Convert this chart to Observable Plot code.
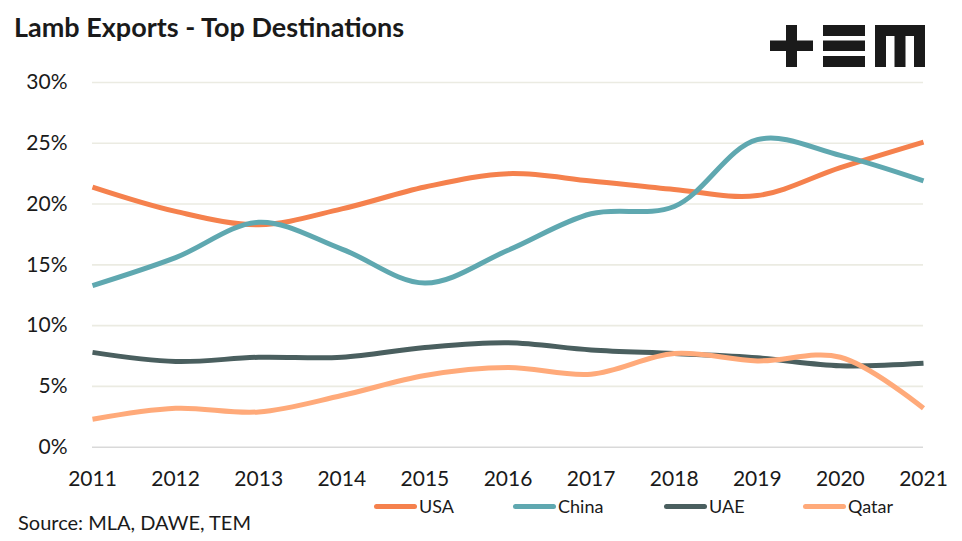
<!DOCTYPE html>
<html>
<head>
<meta charset="utf-8">
<script src="https://cdn.jsdelivr.net/npm/d3@7"></script>
<script src="https://cdn.jsdelivr.net/npm/@observablehq/plot@0.6"></script>
<style>
  html, body { margin: 0; padding: 0; background: #fff; }
  #wrap { position: relative; width: 962px; height: 541px; font-family: Lato, "Open Sans", sans-serif; color: #1a1a1a; overflow: hidden; }
  #title { position: absolute; left: 14px; top: 10px; font-size: 27px; font-weight: 700; color: #1a1a1a; white-space: nowrap; }
  #logo { position: absolute; left: 0; top: 0; }
  #source { position: absolute; left: 18px; top: 510px; font-size: 20px; color: #1a1a1a; white-space: nowrap; }
  #legend { position: absolute; top: 495px; left: 0; width: 962px; height: 24px; }
  .item { position: absolute; display: flex; align-items: center; font-size: 18px; color: #1a1a1a; }
  .swatch { width: 43px; height: 5px; border-radius: 3px; margin-right: 2px; }
  #chart { position: absolute; left: 0; top: 0; }
</style>
</head>
<body>
<div id="wrap">
  <div id="chart"></div>
  <div id="title">Lamb Exports - Top Destinations</div>
  <svg id="logo" width="962" height="80">
    <g fill="#1a1a1a">
      <rect x="770" y="40.5" width="43" height="10.5"/>
      <rect x="786" y="25" width="11" height="42"/>
      <rect x="823" y="25" width="42" height="11"/>
      <rect x="823" y="40.5" width="42" height="10.5"/>
      <rect x="823" y="56" width="42" height="11"/>
      <rect x="875" y="25" width="50" height="11"/>
      <rect x="875" y="25" width="11" height="42"/>
      <rect x="894.5" y="25" width="11" height="42"/>
      <rect x="914" y="25" width="11" height="42"/>
    </g>
  </svg>
  <div id="legend"></div>
  <div id="source">Source: MLA, DAWE, TEM</div>
</div>
<script>
const years = [2011, 2012, 2013, 2014, 2015, 2016, 2017, 2018, 2019, 2020, 2021];
const usa   = [21.4, 19.4, 18.3, 19.6, 21.4, 22.5, 21.9, 21.2, 20.7, 23.0, 25.1];
const china = [13.3, 15.6, 18.5, 16.3, 13.5, 16.2, 19.2, 19.8, 25.3, 24.0, 21.9];
const uae   = [7.8, 7.05, 7.4, 7.4, 8.2, 8.6, 8.0, 7.7, 7.35, 6.7, 6.9];
const qatar = [2.3, 3.2, 2.9, 4.25, 5.9, 6.55, 6.0, 7.7, 7.1, 7.4, 3.2];
const seriesNames = ["USA", "China", "UAE", "Qatar"];
const seriesColors = ["#f5814d", "#5fa8b0", "#4a5f5f", "#ffaa7a"];
const yTicks = [0, 5, 10, 15, 20, 25, 30];

const valuesBySeries = {USA: usa, China: china, UAE: uae, Qatar: qatar};
const data = seriesNames.flatMap(name =>
  years.map((year, i) => ({series: name, year, value: valuesBySeries[name][i]}))
);

const plot = Plot.plot({
  width: 962,
  height: 541,
  marginLeft: 92,
  marginRight: 39,
  marginTop: 82,
  marginBottom: 94.3,
  style: {fontFamily: "Lato, 'Open Sans', sans-serif", fontSize: "21px", color: "#1a1a1a", background: "transparent"},
  x: {domain: [2011, 2021], ticks: years, tickFormat: d => String(d), label: null},
  y: {domain: [0, 30], ticks: yTicks, tickFormat: d => d + "%", label: null},
  color: {domain: seriesNames, range: seriesColors},
  marks: [
    Plot.gridY(yTicks.filter(d => d > 0), {stroke: "#ebebe2", strokeOpacity: 1, strokeWidth: 1.6}),
    Plot.ruleY([0], {stroke: "#d9d9d9", strokeWidth: 1.6}),
    Plot.axisX({ticks: years, tickSize: 0, tickPadding: 24, tickFormat: d => String(d), fontSize: 21, label: null}),
    Plot.axisY({ticks: yTicks, tickSize: 0, tickPadding: 25, tickFormat: d => d + "%", fontSize: 21, label: null}),
    Plot.line(data, {x: "year", y: "value", z: "series", stroke: "series", strokeWidth: 5, curve: "catmull-rom", strokeLinecap: "butt"})
  ]
});
document.getElementById("chart").appendChild(plot);

// Legend
const legendX = [374, 513, 664, 803];
const legend = document.getElementById("legend");
seriesNames.forEach((name, i) => {
  const item = document.createElement("div");
  item.className = "item";
  item.style.left = legendX[i] + "px";
  item.style.top = "0px";
  item.innerHTML = `<span class="swatch" style="background:${seriesColors[i]}"></span><span>${name}</span>`;
  legend.appendChild(item);
});
</script>
</body>
</html>
